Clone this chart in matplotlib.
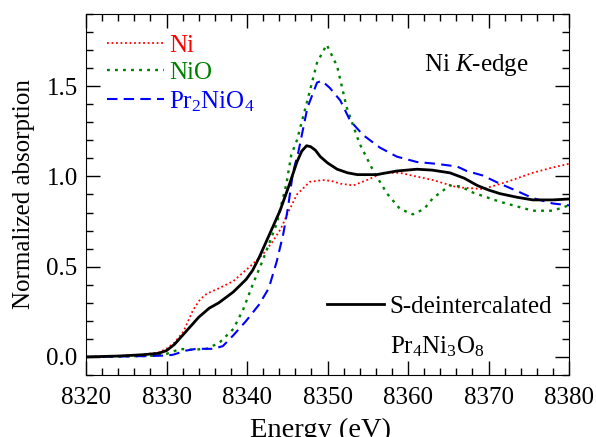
import numpy as np
import matplotlib
matplotlib.use('Agg')
import matplotlib.pyplot as plt
from matplotlib.ticker import MultipleLocator

plt.rcParams['font.family'] = ['Liberation Serif', 'DejaVu Serif']
plt.rcParams['mathtext.fontset'] = 'custom'
plt.rcParams['mathtext.rm'] = 'Liberation Serif'
plt.rcParams['mathtext.it'] = 'Liberation Serif:italic'
plt.rcParams['font.size'] = 18

# S-deintercalated Pr4Ni3O8
E_s = [8320, 8324, 8327, 8329, 8330, 8331, 8332.4, 8334, 8335.3, 8336.5, 8338.3, 8339.9,
       8340.7, 8341.5, 8342.4, 8343.2, 8344.1, 8345.3, 8346.2, 8346.8, 8347.4, 8347.9, 8348.5,
       8349.1, 8350, 8351.2, 8352.5, 8353.7, 8356.1, 8358.6, 8361.1, 8363, 8365.2, 8367,
       8368.6, 8370, 8371.4, 8373.5, 8375.5, 8378, 8380]
y_s = [0.0, 0.005, 0.012, 0.02, 0.035, 0.07, 0.14, 0.22, 0.27, 0.30, 0.36, 0.43,
       0.48, 0.55, 0.64, 0.72, 0.81, 0.96, 1.08, 1.14, 1.17, 1.165, 1.145,
       1.11, 1.075, 1.04, 1.02, 1.01, 1.01, 1.03, 1.04, 1.035, 1.02, 0.99,
       0.95, 0.925, 0.905, 0.885, 0.87, 0.87, 0.875]

# Ni foil
E_ni = [8320, 8324, 8327, 8329, 8330, 8331, 8332.1, 8333.3, 8334.2, 8335.0, 8336.5, 8338.3,
        8340.6, 8342, 8343.2, 8344.2, 8345, 8346.2, 8347.8, 8349.4, 8350.5, 8351.6, 8353.2,
        8354.9, 8356.9, 8359, 8361, 8363.1, 8366.1, 8369.3, 8372.3, 8375.5, 8378, 8380]
y_ni = [0.0, 0.005, 0.012, 0.025, 0.045, 0.08, 0.14, 0.26, 0.32, 0.35, 0.38, 0.42,
        0.51, 0.57, 0.64, 0.71, 0.79, 0.90, 0.97, 0.98, 0.975, 0.96, 0.95,
        0.98, 1.02, 1.02, 1.0, 0.98, 0.94, 0.93, 0.97, 1.02, 1.05, 1.07]

# NiO
E_nio = [8320, 8325, 8328, 8330, 8331.7, 8333.3, 8335, 8336.6, 8338.3, 8339.5, 8340.7,
         8342, 8343.7, 8344.9, 8345.5, 8346.2, 8347.5, 8348.7, 8349.9, 8351.2, 8352.4,
         8354, 8355.7, 8357.4, 8359, 8360.6, 8362, 8363.1, 8365.2, 8366.5, 8368.1,
         8371.4, 8375.5, 8378, 8380]
y_nio = [0.0, 0.003, 0.006, 0.017, 0.044, 0.04, 0.045, 0.08, 0.155, 0.26, 0.40,
         0.54, 0.74, 0.96, 1.12, 1.20, 1.42, 1.63, 1.73, 1.61, 1.38,
         1.18, 1.03, 0.905, 0.82, 0.79, 0.82, 0.88, 0.95, 0.945, 0.91,
         0.86, 0.81, 0.81, 0.84]

# Pr2NiO4
E_pr = [8320, 8325, 8328, 8330, 8330.8, 8332.4, 8333.7, 8335.8, 8337, 8338.3, 8339.9,
        8341.5, 8342.7, 8343.7, 8344.5, 8345.1, 8345.7, 8346.4, 8347.5, 8348.7, 8349.3,
        8350.3, 8351.6, 8352.8, 8354.4, 8356.5, 8358.6, 8361.1, 8363.5, 8366.1, 8367.3,
        8369.3, 8371.4, 8373.5, 8375.5, 8378, 8380]
y_pr = [0.0, 0.003, 0.005, 0.008, 0.012, 0.035, 0.045, 0.045, 0.06, 0.12, 0.20,
        0.29, 0.38, 0.53, 0.68, 0.83, 1.02, 1.14, 1.38, 1.52, 1.53,
        1.49, 1.42, 1.31, 1.23, 1.16, 1.11, 1.08, 1.07, 1.055, 1.03,
        1.005, 0.96, 0.92, 0.88, 0.85, 0.84]

fig = plt.figure(figsize=(5.96, 4.37), dpi=100)
ax = fig.add_axes([0.1443, 0.1419, 0.8104, 0.8261])

l_ni, = ax.plot(E_ni, y_ni, color='red', lw=1.3, ls=(0, (1, 1.5)), label='Ni')
l_nio, = ax.plot(E_nio, y_nio, color='green', lw=1.7, ls=(0, (1.2, 2.2)), label='NiO')
l_pr, = ax.plot(E_pr, y_pr, color='blue', lw=1.5, ls=(0, (5, 3)), label='Pr$_2$NiO$_4$')
l_s, = ax.plot(E_s, y_s, color='black', lw=2, label='S-deintercalated')

ax.set_xlim(8320, 8380)
ax.set_ylim(-0.1, 1.9)
ax.xaxis.set_major_locator(MultipleLocator(10))
ax.xaxis.set_minor_locator(MultipleLocator(2))
ax.yaxis.set_major_locator(MultipleLocator(0.5))
ax.yaxis.set_minor_locator(MultipleLocator(0.1))
ax.tick_params(which='both', direction='in', top=True, right=True, width=1)
ax.tick_params(which='major', length=10)
ax.tick_params(which='minor', length=5)
ax.tick_params(axis='x', which='major', pad=9)
ax.tick_params(axis='y', which='major', pad=6)
ax.yaxis.set_major_formatter(matplotlib.ticker.FormatStrFormatter('%.1f'))

ax.set_xlabel('Energy (eV)', fontsize=20.5, labelpad=6, x=0.485)
ax.set_ylabel('Normalized absorption', labelpad=8)

leg1 = ax.legend(handles=[l_ni, l_nio, l_pr], loc='upper left', bbox_to_anchor=(0.022, 0.972),
                 frameon=False, handlelength=2.3, handletextpad=0.2, labelspacing=0.2,
                 labelcolor='linecolor', borderaxespad=0)
ax.add_artist(leg1)
ax.legend(handles=[l_s], loc='lower right', bbox_to_anchor=(0.985, 0.13),
          frameon=False, handlelength=2.3, handletextpad=0.2, borderaxespad=0)

ax.text(0.70, 0.858, 'Ni $K$-edge', transform=ax.transAxes, va='center', ha='left')
ax.text(0.629, 0.078, 'Pr$_4$Ni$_3$O$_8$', transform=ax.transAxes, va='center', ha='left')

fig.savefig('out.png', dpi=100)
